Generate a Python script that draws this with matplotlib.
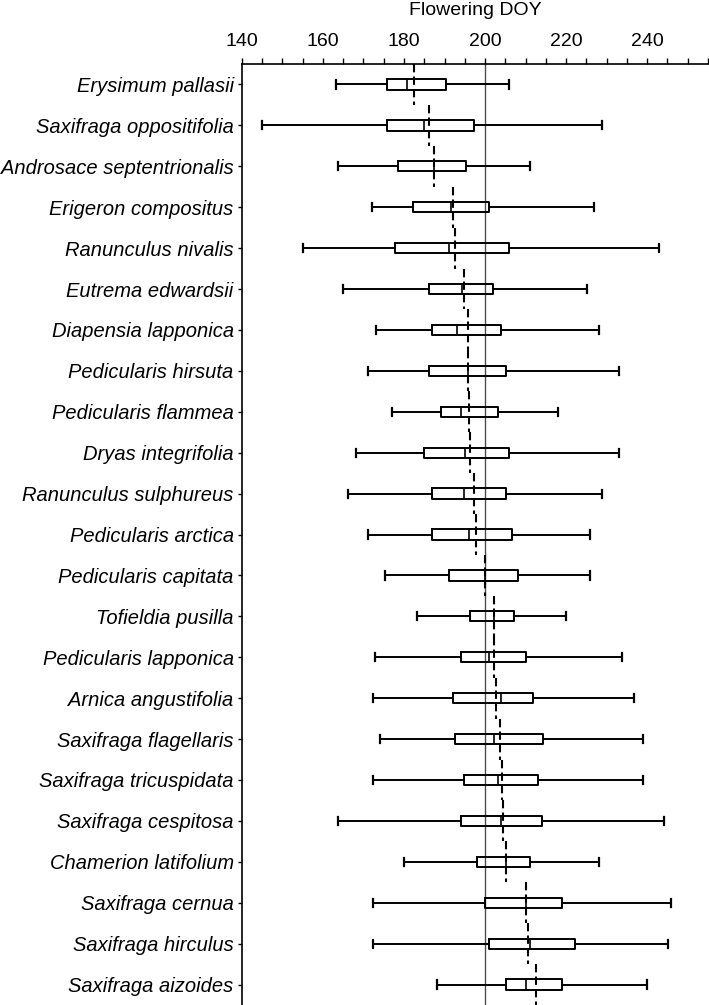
import matplotlib
matplotlib.use("Agg")
import matplotlib.pyplot as plt
from matplotlib.ticker import MultipleLocator

plt.rcParams['font.family'] = ['Liberation Sans', 'DejaVu Sans']

species = [
    "Erysimum pallasii", "Saxifraga oppositifolia", "Androsace septentrionalis",
    "Erigeron compositus", "Ranunculus nivalis", "Eutrema edwardsii",
    "Diapensia lapponica", "Pedicularis hirsuta", "Pedicularis flammea",
    "Dryas integrifolia", "Ranunculus sulphureus", "Pedicularis arctica",
    "Pedicularis capitata", "Tofieldia pusilla", "Pedicularis lapponica",
    "Arnica angustifolia", "Saxifraga flagellaris", "Saxifraga tricuspidata",
    "Saxifraga cespitosa", "Chamerion latifolium", "Saxifraga cernua",
    "Saxifraga hirculus", "Saxifraga aizoides",
]

# flowering day-of-year summaries
whisker_low = [163.1, 144.9, 163.8, 172.2, 155.1, 165.0, 173.0, 171.0, 177.1, 168.1,
               166.1, 171.0, 175.2, 183.1, 172.9, 172.3, 174.1, 172.3, 163.8, 180.1,
               172.3, 172.3, 188.1]
q1 = [175.9, 175.9, 178.5, 182.3, 177.9, 186.2, 187.0, 186.2, 189.2, 185.0,
      186.9, 186.9, 191.0, 196.4, 194.1, 192.2, 192.6, 194.9, 194.1, 197.9,
      200.1, 200.9, 205.1]
median = [180.8, 185.0, 187.5, 191.5, 191.0, 194.2, 193.0, 195.9, 194.1, 195.0,
          194.9, 196.1, 199.9, 202.1, 201.0, 204.0, 202.1, 203.3, 203.9, 205.2,
          210.0, 211.1, 210.0]
q3 = [190.4, 197.2, 195.4, 201.0, 205.8, 202.0, 204.0, 205.1, 203.2, 205.8,
      205.1, 206.6, 208.1, 207.1, 210.0, 211.9, 214.2, 213.1, 214.1, 211.1,
      219.1, 222.1, 219.1]
whisker_high = [205.9, 229.0, 211.1, 227.0, 242.9, 225.1, 228.1, 233.1, 218.0, 233.1,
                229.0, 225.8, 225.8, 219.9, 233.8, 236.8, 239.1, 239.1, 244.1, 228.2,
                245.9, 245.2, 240.0]
mean = [182.5, 186.2, 187.3, 192.2, 192.7, 194.9, 195.7, 195.7, 196.1, 196.4,
        197.3, 197.7, 199.9, 202.2, 202.3, 202.7, 203.8, 204.3, 204.5, 205.2,
        210.0, 210.7, 212.7]

stats = []
for i, name in enumerate(species):
    stats.append(dict(label=name, whislo=whisker_low[i], q1=q1[i], med=median[i],
                      q3=q3[i], whishi=whisker_high[i], fliers=[]))

fig = plt.figure(figsize=(7.09, 10.05), dpi=100)
ax = fig.add_axes([0.3413, 0.0, 0.657, 0.9363])

pos = list(range(len(species)))
ax.bxp(stats, positions=pos, vert=False, widths=0.25, capwidths=0.2,
       showfliers=False, manage_ticks=False,
       boxprops=dict(color='black', linewidth=1.4),
       whiskerprops=dict(color='black', linewidth=1.4),
       capprops=dict(color='black', linewidth=1.6),
       medianprops=dict(color='black', linewidth=1.2))

# mean of each species as a dashed vertical segment
for i, m in enumerate(mean):
    ax.vlines(m, i - 0.5, i + 0.5, colors='black', linewidth=1.5,
              linestyles=(0, (4, 2)), zorder=4)

ax.axvline(200, color='#4d4d4d', linewidth=1.0, zorder=1)

ax.set_xlim(140, 255)
ax.set_ylim(22.5, -0.5)

ax.xaxis.set_ticks_position('top')
ax.xaxis.set_label_position('top')
ax.xaxis.set_major_locator(MultipleLocator(20))
ax.xaxis.set_minor_locator(MultipleLocator(5))
ax.set_xticks([140, 160, 180, 200, 220, 240])
ax.tick_params(axis='x', which='both', direction='out', length=4, width=1.0,
               labelsize=14, pad=6)
ax.set_xlabel("Flowering DOY", fontsize=14, labelpad=13)

ax.set_yticks(pos)
ax.set_yticklabels(species, fontsize=14.5, fontstyle='italic')
ax.tick_params(axis='y', direction='out', length=3, width=1.0, pad=3)

ax.spines['right'].set_visible(False)
ax.spines['bottom'].set_visible(False)
ax.spines['top'].set_linewidth(1.2)
ax.spines['left'].set_linewidth(1.2)

fig.savefig("out.png", dpi=100)
